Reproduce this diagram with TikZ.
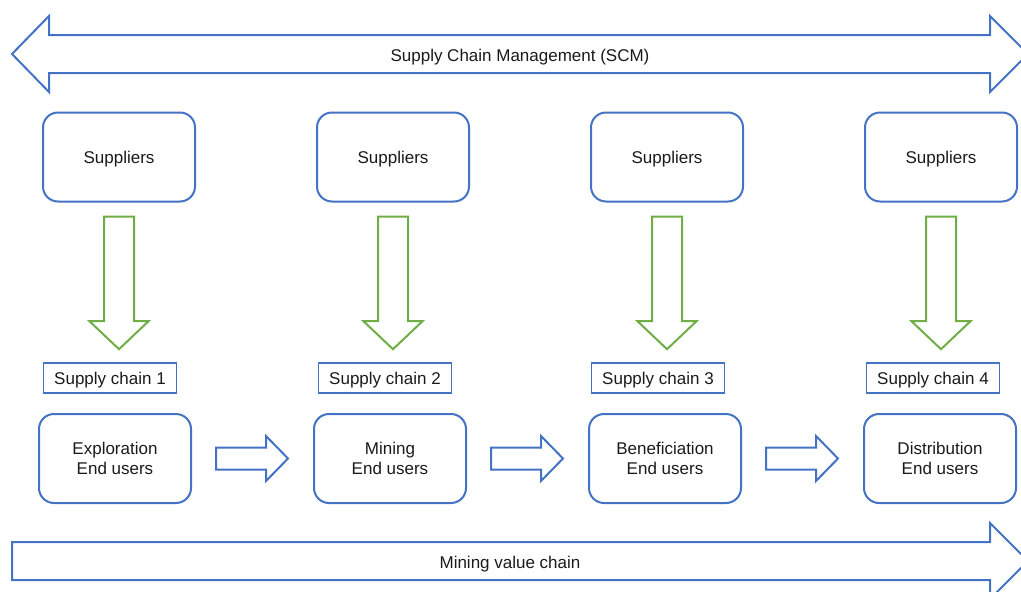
\documentclass[tikz,border=0pt]{standalone}
\usepackage{fontspec}
\setmainfont{Liberation Sans}
\usetikzlibrary{calc}
\definecolor{officeblue}{HTML}{4472C4}
\definecolor{officegreen}{HTML}{70AD47}
\definecolor{ink}{HTML}{1A1A1A}

\begin{document}
\begin{tikzpicture}[x=1pt,y=-1pt,
  every node/.style={font=\fontsize{17}{20.5}\selectfont, text=ink, text depth=0pt},
  roundbox/.style={draw=officeblue, line width=2pt, rounded corners=15pt,
    minimum width=152pt, minimum height=89pt, align=center, inner sep=0pt},
  tagbox/.style={draw=officeblue, line width=1.6pt, minimum width=133pt,
    minimum height=30pt, inner sep=0pt},
  bluearrow/.style={draw=officeblue, line width=2pt, line join=miter},
  greenarrow/.style={draw=officegreen, line width=2pt, line join=miter}]
\useasboundingbox (0,0) rectangle (1021,592);
\clip (0,0) rectangle (1021,592);

% supply chain management: double-headed block arrow across the top
\draw[bluearrow] (12,54) -- (49,16) -- (49,35) -- (990,35) -- (990,16)
  -- (1028,54) -- (990,92) -- (990,73) -- (49,73) -- (49,92) -- cycle;
\node (scm) at (520,55) {Supply Chain Management (SCM)};

% mining value chain: block arrow across the bottom
\draw[bluearrow] (12,542) -- (990,542) -- (990,523) -- (1028,561)
  -- (990,599) -- (990,580) -- (12,580) -- cycle;
\node (mvc) at (510,562) {Mining value chain};

% suppliers
\foreach \i/\x in {1/119,2/393,3/667,4/941}
  \node[roundbox] (sup\i) at (\x,157) {Suppliers};

% supply chain tags
\foreach \i/\x in {1/110,2/385,3/658,4/933}
  \node[tagbox] (sc\i) at (\x,378) {Supply chain \i};

% stages with their end users
\node[roundbox] (eu1) at (115,458.5) {Exploration\\End users};
\node[roundbox] (eu2) at (390,458.5) {Mining\\End users};
\node[roundbox] (eu3) at (665,458.5) {Beneficiation\\End users};
\node[roundbox] (eu4) at (940,458.5) {Distribution\\End users};

% supplier -> supply chain block arrows
\foreach \i in {1,2,3,4}
  \draw[greenarrow] let \p1=(sup\i.south), \p2=(sc\i.north) in
    (\x1-15pt,\y1-14pt) -- (\x1+15pt,\y1-14pt) -- (\x1+15pt,\y2+41pt)
    -- (\x1+29.5pt,\y2+41pt) -- (\x1,\y2+13pt) -- (\x1-29.5pt,\y2+41pt)
    -- (\x1-15pt,\y2+41pt) -- cycle;

% stage -> stage block arrows
\foreach \i/\j in {1/2,2/3,3/4}
  \draw[bluearrow] let \p1=(eu\i.east), \p2=(eu\j.west) in
    (\x1+24pt,\y1+11pt) -- (\x2-47pt,\y1+11pt) -- (\x2-47pt,\y1+22.5pt)
    -- (\x2-25pt,\y1) -- (\x2-47pt,\y1-22.5pt) -- (\x2-47pt,\y1-11pt)
    -- (\x1+24pt,\y1-11pt) -- cycle;
\end{tikzpicture}
\end{document}
